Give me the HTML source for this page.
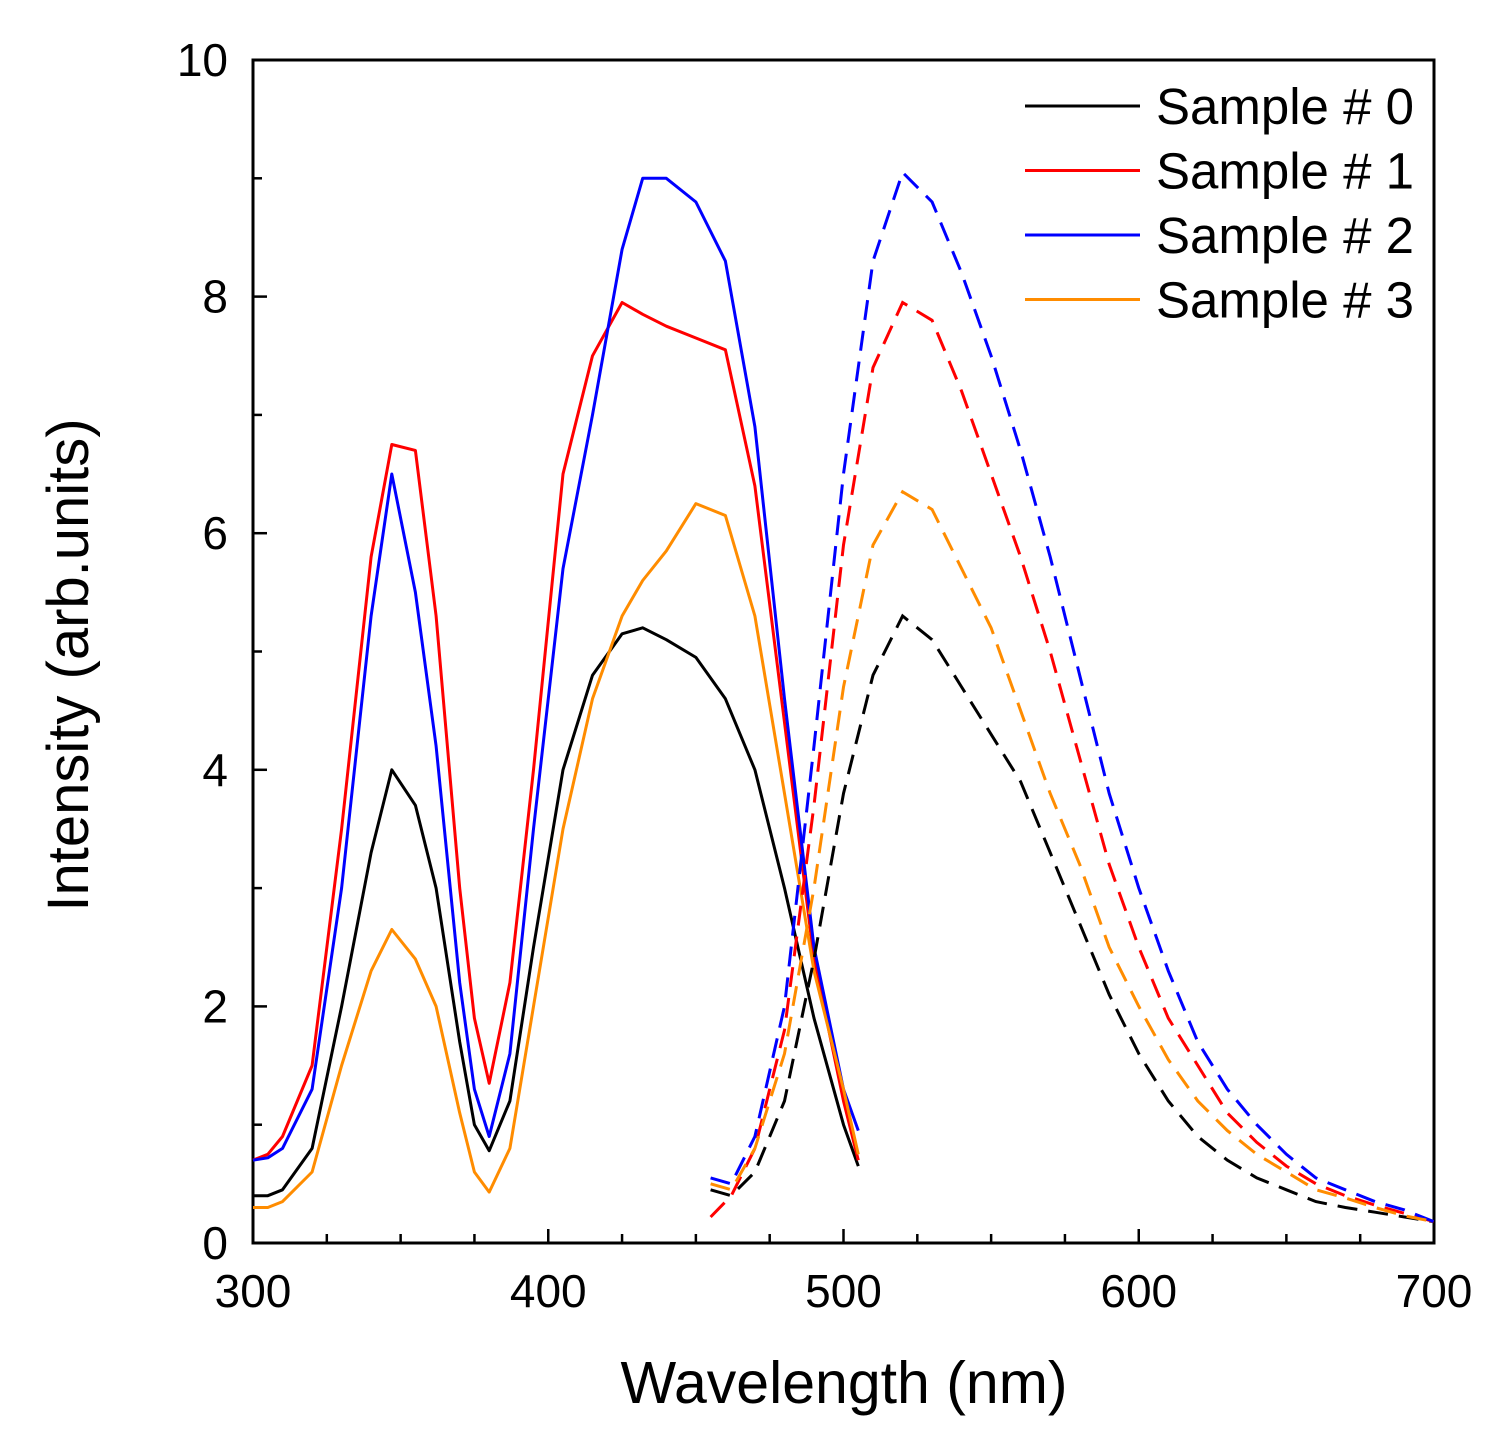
<!DOCTYPE html>
<html><head><meta charset="utf-8"><style>
body{margin:0;background:#fff}
svg{display:block;font-family:"Liberation Sans",Arial,sans-serif}
</style></head><body>
<svg id="chart" width="1493" height="1432" xmlns="http://www.w3.org/2000/svg"></svg>
<script>
const xTicks=[300,400,500,600,700];
const yTicks=[0,2,4,6,8,10];
const seriesNames=["Sample # 0","Sample # 1","Sample # 2","Sample # 3"];
const seriesColors=["#000000","#ff0000","#0000ff","#ff8c00"];
const solidX=[300,305,310,320,330,340,347,355,362,370,375,380,387,395,405,415,425,432,440,450,460,470,480,490,500,505];
const solid0=[0.4,0.4,0.45,0.8,2.0,3.3,4.0,3.7,3.0,1.7,1.0,0.78,1.2,2.5,4.0,4.8,5.15,5.2,5.1,4.95,4.6,4.0,3.0,1.9,1.0,0.65];
const solid1=[0.7,0.75,0.9,1.5,3.5,5.8,6.75,6.7,5.3,3.0,1.9,1.35,2.2,4.0,6.5,7.5,7.95,7.85,7.75,7.65,7.55,6.4,4.4,2.4,1.2,0.7];
const solid2=[0.7,0.72,0.8,1.3,3.0,5.3,6.5,5.5,4.2,2.2,1.3,0.9,1.6,3.5,5.7,7.0,8.4,9.0,9.0,8.8,8.3,6.9,4.6,2.5,1.3,0.95];
const solid3=[0.3,0.3,0.35,0.6,1.5,2.3,2.65,2.4,2.0,1.1,0.6,0.43,0.8,2.0,3.5,4.6,5.3,5.6,5.85,6.25,6.15,5.3,3.8,2.3,1.3,0.75];
const dashX=[455,462,470,480,490,500,510,520,530,540,550,560,570,580,590,600,610,620,630,640,650,660,670,680,690,700];
const dash0=[0.45,0.4,0.6,1.2,2.4,3.8,4.8,5.3,5.1,4.7,4.3,3.9,3.3,2.7,2.1,1.6,1.2,0.9,0.7,0.55,0.45,0.35,0.3,0.26,0.22,0.18];
const dash1=[0.22,0.4,0.8,1.8,3.7,5.9,7.4,7.95,7.8,7.2,6.5,5.8,5.0,4.1,3.2,2.5,1.9,1.5,1.1,0.85,0.65,0.5,0.4,0.32,0.25,0.18];
const dash2=[0.55,0.5,0.9,2.0,4.2,6.5,8.3,9.05,8.8,8.2,7.5,6.7,5.8,4.8,3.8,3.0,2.3,1.7,1.3,1.0,0.75,0.55,0.45,0.35,0.28,0.18];
const dash3=[0.5,0.45,0.8,1.6,3.0,4.7,5.9,6.35,6.2,5.7,5.2,4.5,3.8,3.2,2.5,2.0,1.55,1.2,0.95,0.75,0.6,0.45,0.38,0.3,0.23,0.18];

const NS="http://www.w3.org/2000/svg";
const svg=document.getElementById('chart');
const L=253,R=1434,T=60,B=1243;
const xs=v=>L+(v-300)/400*(R-L);
const ys=v=>B-v/10*(B-T);
function mk(tag,attrs,parent){const e=document.createElementNS(NS,tag);for(const k in attrs)e.setAttribute(k,attrs[k]);(parent||svg).appendChild(e);return e;}

const frame=mk('rect',{x:L,y:T,width:R-L,height:B-T,fill:'none',stroke:'#000','stroke-width':3});



for(let v=300;v<=700;v+=25){
  const major=v%100===0;const len=major?14:9;
  const t=mk('line',{x1:xs(v),x2:xs(v),y1:B,y2:B-len,stroke:'#000','stroke-width':2.5});
  
  
}
for(let v=0;v<=10;v+=1){
  const major=v%2===0;const len=major?14:9;
  const t=mk('line',{x1:L,x2:L+len,y1:ys(v),y2:ys(v),stroke:'#000','stroke-width':2.5});
  
  
}
xTicks.forEach(v=>{
  const t=mk('text',{x:xs(v),y:1307,'font-size':46,'text-anchor':'middle'});t.textContent=v;
  
  
});
yTicks.forEach(v=>{
  const t=mk('text',{x:228,y:ys(v)+16,'font-size':46,'text-anchor':'end'});t.textContent=v;
  
  
});
const xt=mk('text',{x:844,y:1403,'font-size':59,'text-anchor':'middle'});xt.textContent='Wavelength (nm)';


const yt=mk('text',{x:0,y:0,'font-size':58,'text-anchor':'middle',transform:'translate(88,665) rotate(-90)'});yt.textContent='Intensity (arb.units)';



const solids=[solid0,solid1,solid2,solid3];
const dashes=[dash0,dash1,dash2,dash3];
function path(xa,ya){return xa.map((x,i)=>(i?'L':'M')+xs(x).toFixed(1)+','+ys(ya[i]).toFixed(1)).join(' ');}
solids.forEach((s,i)=>{
  const p=mk('path',{d:path(solidX,s),fill:'none',stroke:seriesColors[i],'stroke-width':3,'stroke-linejoin':'round'});
  
  
});
dashes.forEach((s,i)=>{
  const p=mk('path',{d:path(dashX,s),fill:'none',stroke:seriesColors[i],'stroke-width':3,'stroke-dasharray':'20,11'});
  
  
});
seriesNames.forEach((n,i)=>{
  const y=106+i*64.5;
  const g=mk('g',{});
  
  
  mk('line',{x1:1025,x2:1140,y1:y,y2:y,stroke:seriesColors[i],'stroke-width':3},g);
  const t=mk('text',{x:1156,y:y+18,'font-size':51},g);t.textContent=n;
});
</script>
</body></html>
